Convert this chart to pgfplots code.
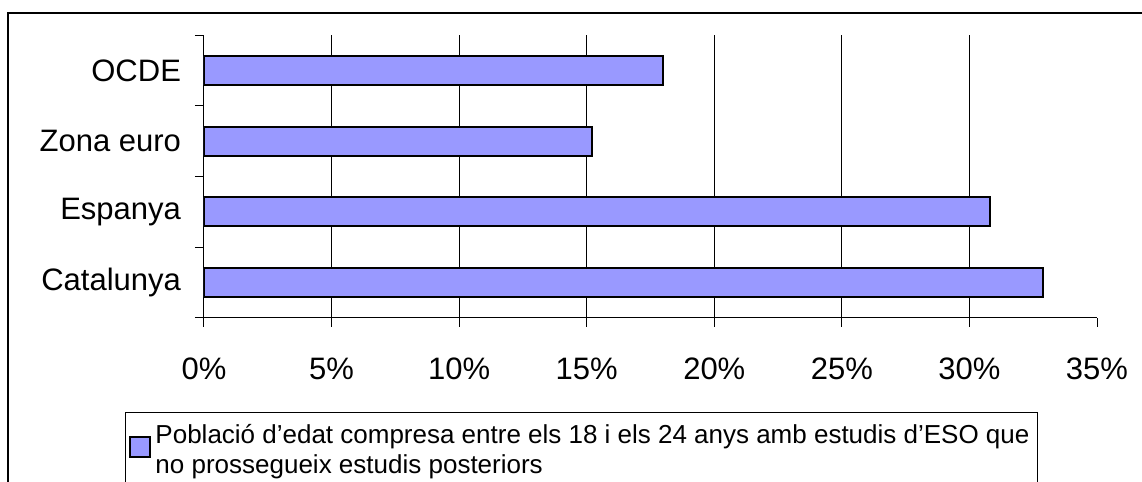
\documentclass[border=0pt]{standalone}
\usepackage{pgfplots}
\pgfplotsset{compat=1.18}
\usepackage{fontspec}
\setmainfont{Liberation Sans}
\definecolor{barblue}{HTML}{9999FF}
\begin{document}
\begin{tikzpicture}
\useasboundingbox (0,0) rectangle (571pt,241pt);
\draw[black, line width=0.75pt] (4pt,0) -- (4pt,234.5pt) -- (580pt,234.5pt);
\begin{axis}[
  at={(102pt,82pt)}, anchor=south west,
  scale only axis, width=446.5pt, height=141.5pt,
  xbar, bar width=14.5pt, bar shift=0pt,
  xmin=0, xmax=35, ymin=-0.5, ymax=3.5,
  axis lines*=left,
  axis line style={line width=0.5pt, black},
  xtick={0,5,...,35},
  xticklabels={0\%,5\%,10\%,15\%,20\%,25\%,30\%,35\%},
  ytick={-0.5,0.5,1.5,2.5,3.5},
  yticklabels={},
  extra y ticks={0,1,2,3},
  extra y tick labels={Catalunya,Espanya,Zona euro,OCDE},
  extra y tick style={major tick length=0pt, yticklabel style={xshift=-8pt}},
  extra x ticks={5,10,...,30},
  extra x tick labels={},
  extra x tick style={grid=major, major tick length=0pt},
  grid style={black, line width=0.5pt},
  tick align=outside,
  major tick length=4.5pt,
  tick style={black, line width=0.5pt},
  ticklabel style={font=\fontsize{15.5}{18}\selectfont},
  xticklabel style={yshift=-12pt},
  /pgf/number format/assume math mode=true,
  legend style={at={(-0.08847,-0.33216)}, anchor=north west, draw=black, line width=0.5pt,
    font=\fontsize{13}{15}\selectfont, inner xsep=2pt, inner ysep=4pt,
    nodes={inner sep=2pt, text depth={}}},
  legend image code/.code={\path[draw=none, fill=none] (0pt,-20pt) rectangle (10pt,10pt);
    \draw[#1, draw=black, line width=1pt] (0pt,0pt) rectangle (10pt,10pt);},
]
\addplot[fill=barblue, draw=black, line width=1pt] coordinates {(32.9,0) (30.8,1) (15.2,2) (18.0,3)};
\addlegendentry{\parbox[t]{437pt}{Població d’edat compresa entre els 18 i els 24 anys amb estudis d’ESO que\\no prossegueix estudis posteriors\rule[-8pt]{0pt}{8pt}}}
\end{axis}
\end{tikzpicture}
\end{document}
